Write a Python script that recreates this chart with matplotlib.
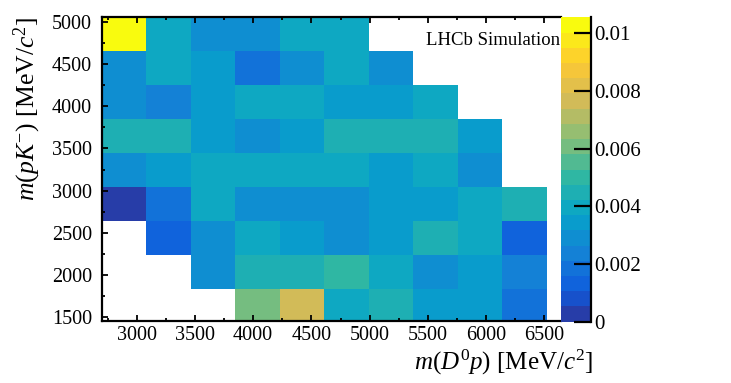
import numpy as np
import matplotlib
matplotlib.use("Agg")
import matplotlib.pyplot as plt
from matplotlib.colors import LinearSegmentedColormap, ListedColormap, Normalize
from matplotlib.ticker import MultipleLocator, FuncFormatter

# ---- data ----
x_edges = [2700, 3082, 3464, 3846, 4228, 4610, 4992, 5374, 5756, 6138, 6520]
y_edges = [1440, 1841, 2242, 2643, 3044, 3446, 3847, 4248, 4649, 5050]
nan = np.nan
# rows from bottom (low m(pK)) to top
values = [
    [nan, nan, nan, 0.0060, 0.0077, 0.0040, 0.0045, 0.0034, 0.0034, 0.0016],
    [nan, nan, 0.0029, 0.0045, 0.0045, 0.0050, 0.0040, 0.0029, 0.0034, 0.0024],
    [nan, 0.0014, 0.0029, 0.0040, 0.0034, 0.0029, 0.0034, 0.0045, 0.0040, 0.0015],
    [0.0003, 0.0020, 0.0040, 0.0029, 0.0029, 0.0029, 0.0034, 0.0034, 0.0040, 0.0045],
    [0.0029, 0.0034, 0.0040, 0.0040, 0.0040, 0.0040, 0.0034, 0.0040, 0.0029, nan],
    [0.0045, 0.0045, 0.0034, 0.0029, 0.0034, 0.0045, 0.0045, 0.0045, 0.0034, nan],
    [0.0029, 0.0024, 0.0034, 0.0040, 0.0040, 0.0034, 0.0034, 0.0040, nan, nan],
    [0.0027, 0.0040, 0.0034, 0.0019, 0.0029, 0.0040, 0.0027, nan, nan, nan],
    [0.01055, 0.0040, 0.0029, 0.0029, 0.0040, 0.0040, nan, nan, nan, nan],
]
cbar_ticks = [0, 0.002, 0.004, 0.006, 0.008, 0.01]

# ---- style ----
plt.rcParams['font.family'] = ['Liberation Serif', 'DejaVu Serif']
plt.rcParams['mathtext.fontset'] = 'custom'
plt.rcParams['mathtext.rm'] = 'Liberation Serif'
plt.rcParams['mathtext.it'] = 'Liberation Serif:italic'
plt.rcParams['mathtext.bf'] = 'Liberation Serif:bold'
FS = 14.5
LFS = 18

# ROOT kBird palette
r = [0.2082, 0.0592, 0.0780, 0.0232, 0.1802, 0.5301, 0.8186, 0.9956, 0.9764]
g = [0.1664, 0.3599, 0.5041, 0.6419, 0.7178, 0.7492, 0.7328, 0.7862, 0.9832]
b = [0.5293, 0.8684, 0.8385, 0.7914, 0.6425, 0.4662, 0.3499, 0.1968, 0.0539]
stops = np.linspace(0, 1, 9)
bird = LinearSegmentedColormap.from_list("bird", list(zip(stops, zip(r, g, b))))
ncont = 20
cmap = ListedColormap([bird((i + 1) / ncont) for i in range(ncont)])
cmap.set_bad((1, 1, 1, 0))

Z = np.ma.masked_invalid(np.array(values))
vmax = np.nanmax(np.array(values))

fig = plt.figure(figsize=(7.31, 3.83), dpi=100)
ax = fig.add_axes([0.1391, 0.1627, 0.7675 - 0.1391, 0.9548 - 0.1627])
mesh = ax.pcolormesh(x_edges, y_edges, Z, cmap=cmap, norm=Normalize(0, vmax))
ax.set_xlim(2700, 6643)
ax.set_ylim(1460, 5052)

ax.xaxis.set_major_locator(MultipleLocator(500))
ax.xaxis.set_minor_locator(MultipleLocator(250))
ax.yaxis.set_major_locator(MultipleLocator(500))
ax.yaxis.set_minor_locator(MultipleLocator(250))
ax.tick_params(which='both', direction='in', top=True, right=False, width=1.3)
ax.tick_params(which='major', length=4.5, labelsize=FS)
ax.tick_params(which='minor', length=2.3)
ax.tick_params(axis='x', which='major', pad=4)
ax.tick_params(axis='y', which='major', pad=7)
for s in ['left', 'bottom', 'top']:
    ax.spines[s].set_linewidth(1.6)
ax.spines['right'].set_visible(False)

ax.text(0.705, 0.925, "LHCb Simulation", transform=ax.transAxes,
        fontsize=13.5, ha='left', va='center')

fig.text(0.811, 0.036, r"$m(D^{\mathit{0}}p)$ [MeV/$c^{2}$]", fontsize=LFS,
         ha='right', va='baseline')
fig.text(0.038, 0.955, r"$m(pK^{-})$ [MeV/$c^{2}$]", fontsize=LFS + 0.5,
         ha='center', va='top', rotation=90)

cax = fig.add_axes([0.7675, 0.9548 - (321.7 - 17.3) / 383, 30 / 731, (321.7 - 17.3) / 383])
cb = fig.colorbar(mesh, cax=cax)
cb.outline.set_visible(False)
cax.spines['right'].set_visible(True)
cax.spines['right'].set_linewidth(1.6)
cb.set_ticks(cbar_ticks)
cb.ax.yaxis.set_major_formatter(FuncFormatter(lambda v, p: f"{v:g}"))
cax.tick_params(which='major', direction='in', length=12, width=1.6,
                labelsize=15, pad=2, right=True, left=False)
cax.minorticks_off()

fig.savefig("out.png", dpi=100)
